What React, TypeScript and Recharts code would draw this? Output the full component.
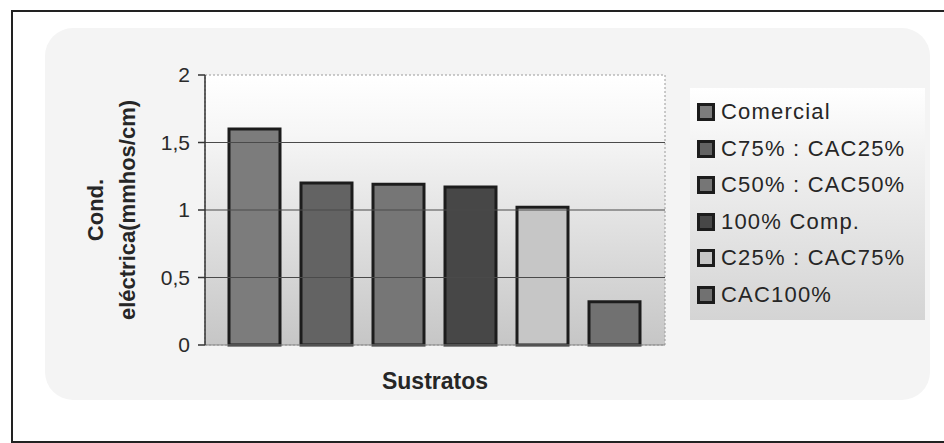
import React from "react";
import {
  BarChart,
  Bar,
  XAxis,
  YAxis,
  CartesianGrid,
  ReferenceLine,
  ReferenceArea,
  Legend,
  Label,
} from "recharts";

const seriesNames = [
  "Comercial",
  "C75% : CAC25%",
  "C50% : CAC50%",
  "100% Comp.",
  "C25% : CAC75%",
  "CAC100%",
];
const seriesValues = [1.6, 1.2, 1.19, 1.17, 1.02, 0.32];
const seriesFills = ["#7c7c7c", "#636363", "#767676", "#474747", "#c6c6c6", "#717171"];
const yTicks = [0, 0.5, 1, 1.5, 2];
const gridValues = [0.5, 1, 1.5];

const chartRow: Record<string, string | number> = { group: "Sustratos" };
seriesNames.forEach((name, i) => {
  chartRow[`s${i}`] = seriesValues[i];
});
const data = [chartRow];

const FONT = "Arial, 'Liberation Sans', sans-serif";

const LegendBox = (props: any) => {
  // keep the series order instead of the alphabetical one
  const items = [...(props.payload || [])].sort(
    (a: any, b: any) => seriesNames.indexOf(a.value) - seriesNames.indexOf(b.value)
  );
  return (
    <div style={{ paddingTop: 6, paddingLeft: 7 }}>
      {items.map((entry: any) => (
        <div
          key={entry.value}
          style={{ display: "flex", alignItems: "center", height: 36.5 }}
        >
          <span
            style={{
              display: "inline-block",
              width: 12,
              height: 12,
              background: entry.color,
              border: "3px solid #1c1c1c",
              marginRight: 6,
            }}
          />
          <span
            style={{
              fontFamily: FONT,
              fontSize: 22,
              letterSpacing: 1.2,
              color: "#262626",
            }}
          >
            {entry.value}
          </span>
        </div>
      ))}
    </div>
  );
};

const YTitle = (props: any) => {
  const vb = props.viewBox || { x: 0, y: 0, width: 0, height: 0 };
  const cx = vb.x - 49;
  const cy = vb.y + vb.height / 2;
  return (
    <text
      transform={`rotate(-90, ${cx}, ${cy})`}
      x={cx}
      y={cy}
      textAnchor="middle"
      fontFamily={FONT}
      fontSize={22}
      fontWeight="bold"
      fill="#262626"
    >
      <tspan x={cx} dy={-8}>
        Cond.
      </tspan>
      <tspan x={cx} dy={32}>
        eléctrica(mmhos/cm)
      </tspan>
    </text>
  );
};

export default function App() {
  return (
    <div
      style={{
        position: "absolute",
        left: 0,
        top: 0,
        width: 944,
        height: 443,
        background: "#ffffff",
        overflow: "hidden",
      }}
    >
      {/* faint panel behind the chart */}
      <div
        style={{
          position: "absolute",
          left: 45,
          top: 28,
          width: 885,
          height: 372,
          borderRadius: 28,
          background: "#f4f4f4",
        }}
      />
      {/* outer frame */}
      <div
        style={{
          position: "absolute",
          left: 11,
          top: 10,
          width: 960,
          height: 429,
          border: "2px solid #222",
        }}
      />
      <div style={{ position: "absolute", left: 0, top: 0 }}>
        <BarChart
          width={944}
          height={443}
          data={data}
          margin={{ top: 75, right: 279, bottom: 48, left: 160 }}
          barCategoryGap={24}
          barGap={21}
        >
          <defs>
            <linearGradient id="plotBg" x1="0" y1="0" x2="0" y2="1">
              <stop offset="0%" stopColor="#ffffff" />
              <stop offset="22%" stopColor="#f6f6f6" />
              <stop offset="100%" stopColor="#c6c6c6" />
            </linearGradient>
          </defs>
          <CartesianGrid horizontal={false} vertical={false} fill="url(#plotBg)" />
          <ReferenceArea
            y1={0}
            y2={2}
            fill="none"
            stroke="#9a9a9a"
            strokeDasharray="2 2"
          />
          {gridValues.map((v) => (
            <ReferenceLine key={v} y={v} stroke="#4a4a4a" strokeWidth={1.2} />
          ))}
          <XAxis
            dataKey="group"
            tick={false}
            tickLine={false}
            height={50}
            axisLine={{ stroke: "#888" }}
          >
            <Label
              value="Sustratos"
              position="insideBottom"
              offset={6}
              fontFamily={FONT}
              fontSize={23}
              fontWeight="bold"
              fill="#262626"
            />
          </XAxis>
          <YAxis
            width={45}
            domain={[0, 2]}
            ticks={yTicks}
            interval={0}
            tickSize={7}
            tickMargin={8}
            tickFormatter={(v: number) => String(v).replace(".", ",")}
            tick={{ fontFamily: FONT, fontSize: 21, fill: "#2a2a2a" }}
            axisLine={{ stroke: "#333", strokeWidth: 1.5 }}
            tickLine={{ stroke: "#333", strokeWidth: 1.5 }}
          >
            <Label content={<YTitle />} />
          </YAxis>
          <Legend
            layout="horizontal"
            align="center"
            verticalAlign="middle"
            content={<LegendBox />}
            wrapperStyle={{
              left: 690,
              top: 88,
              width: 235,
              height: 232,
              background: "linear-gradient(#ffffff 0%, #f3f3f3 25%, #d4d4d4 100%)",
            }}
          />
          {seriesNames.map((name, i) => (
            <Bar
              key={name}
              dataKey={`s${i}`}
              name={name}
              fill={seriesFills[i]}
              stroke="#1c1c1c"
              strokeWidth={3}
              isAnimationActive={false}
            />
          ))}
        </BarChart>
      </div>
    </div>
  );
}
